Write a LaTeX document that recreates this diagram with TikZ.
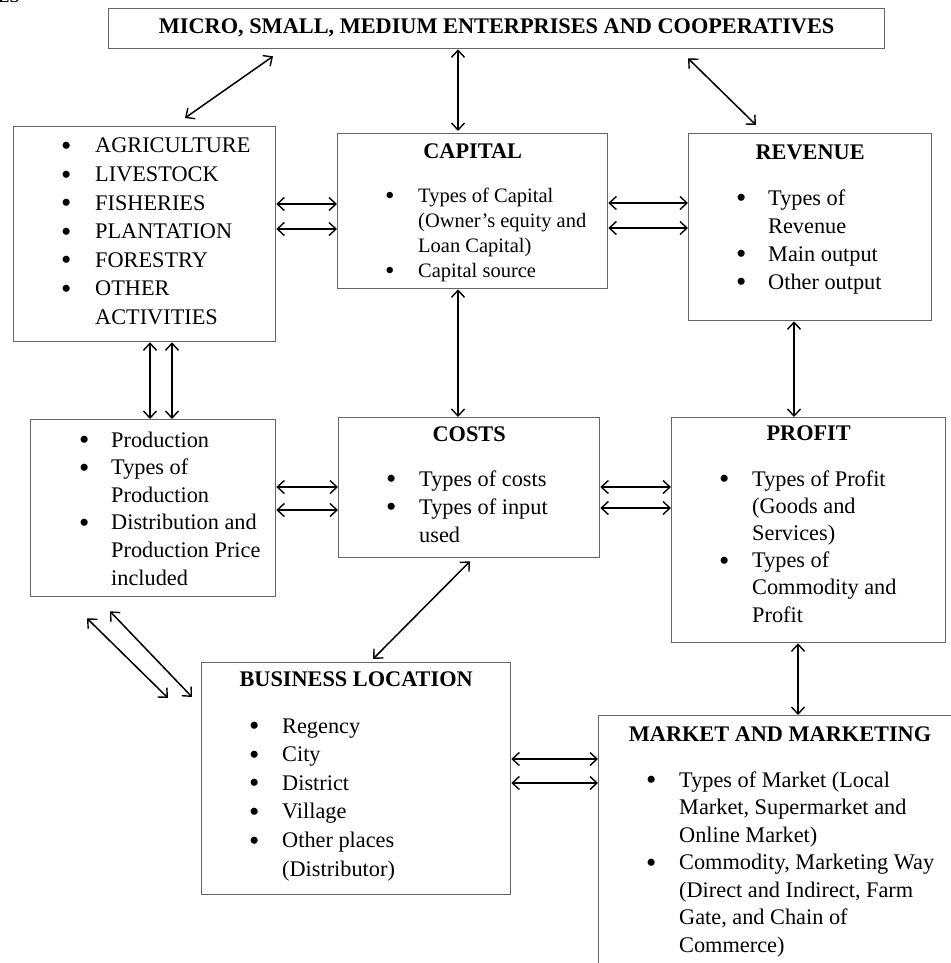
\documentclass[tikz,border=0pt]{standalone}
\usepackage{fontspec}
\setmainfont{Liberation Serif}
\usetikzlibrary{arrows.meta}

\NewDocumentCommand{\flowbox}{mmmmm}{%
\node[box, minimum width={#4-#2}, minimum height={#5-#3}] (#1) at (#2,#3) {};%
}
\newcommand{\bu}{\smash{\raisebox{-2.6pt}{\scalebox{1.32}{\textbullet}}} &}

\begin{document}
\begin{tikzpicture}[x=1pt, y=-1pt,
    box/.style={draw=black!60, line width=1.3pt, anchor=north west, inner sep=0pt},
    title/.style={anchor=base, inner sep=0pt, font=\bfseries\fontsize{22.3}{26}\selectfont},
    items/.style={anchor=base west, inner sep=0pt},
    dbl/.style={<->, line width=1.5pt, >={Straight Barb[length=7pt,width=13pt,line width=1.4pt]}}]
        \useasboundingbox (0,0) rectangle (950,963);
        \node (esfrag) [anchor=base west, font=\bfseries\fontsize{18}{20}\selectfont] at (-6,3) {ES};

        % boxes
        \flowbox{mse}{108}{8}{884}{48}
        \flowbox{act}{13}{126}{275}{341}
        \flowbox{cap}{337}{133}{607}{288}
        \flowbox{rev}{688}{133}{931}{320}
        \flowbox{prod}{30}{419}{275}{596}
        \flowbox{cost}{338}{417}{599}{557}
        \flowbox{prof}{671}{417}{945}{642}
        \flowbox{loc}{201}{662}{510}{894}
        \flowbox{mkt}{598}{715}{962}{980}

        % titles
        \node[title] (mseT) at (mse.north |- 0,34) {MICRO, SMALL, MEDIUM ENTERPRISES AND COOPERATIVES};
        \node[title] (capT) at (cap.north |- 0,158) {CAPITAL};
        \node[title] (revT) at (rev.north |- 0,159) {REVENUE};
        \node[title] (costT) at (cost.north |- 0,441) {COSTS};
        \node[title] (profT) at (prof.north |- 0,440) {PROFIT};
        \node[title] (locT) at (loc.north |- 0,686) {BUSINESS LOCATION};
        \node[title] (mktT) at (780,741) {MARKET AND MARKETING};

        % bullet lists
        \node[items, font=\fontsize{22.3}{28.5}\selectfont] (actL) at (61,153) {%
          \begin{tabular}[t]{@{}p{34pt}@{}l@{}}
          \bu AGRICULTURE\\ \bu LIVESTOCK\\ \bu FISHERIES\\ \bu PLANTATION\\
          \bu FORESTRY\\ \bu OTHER\\ & ACTIVITIES
          \end{tabular}};
        \node[items, font=\fontsize{20.5}{25}\selectfont] (capL) at (385,202) {%
          \begin{tabular}[t]{@{}p{33pt}@{}l@{}}
          \bu Types of Capital\\ & (Owner’s equity and\\ & Loan Capital)\\
          \bu Capital source
          \end{tabular}};
        \node[items, font=\fontsize{22.3}{28}\selectfont] (revL) at (736,205) {%
          \begin{tabular}[t]{@{}p{32pt}@{}l@{}}
          \bu Types of\\ & Revenue\\ \bu Main output\\ \bu Other output
          \end{tabular}};
        \node[items, font=\fontsize{22.3}{27.6}\selectfont] (prodL) at (79,447) {%
          \begin{tabular}[t]{@{}p{32pt}@{}l@{}}
          \bu Production\\ \bu Types of\\ & Production\\
          \bu Distribution and\\ & Production Price\\ & included
          \end{tabular}};
        \node[items, font=\fontsize{22.3}{28}\selectfont] (costL) at (386,486) {%
          \begin{tabular}[t]{@{}p{33pt}@{}l@{}}
          \bu Types of costs\\ \bu Types of input\\ & used
          \end{tabular}};
        \node[items, font=\fontsize{22.3}{27.2}\selectfont] (profL) at (719,486) {%
          \begin{tabular}[t]{@{}p{33pt}@{}l@{}}
          \bu Types of Profit\\ & (Goods and\\ & Services)\\
          \bu Types of\\ & Commodity and\\ & Profit
          \end{tabular}};
        \node[items, font=\fontsize{22.3}{28.6}\selectfont] (locL) at (249,733) {%
          \begin{tabular}[t]{@{}p{33pt}@{}l@{}}
          \bu Regency\\ \bu City\\ \bu District\\ \bu Village\\
          \bu Other places\\ & (Distributor)
          \end{tabular}};
        \node[items, font=\fontsize{22.3}{27.5}\selectfont] (mktL) at (646,787) {%
          \begin{tabular}[t]{@{}p{33pt}@{}l@{}}
          \bu Types of Market (Local\\ & Market, Supermarket and\\ & Online Market)\\
          \bu Commodity, Marketing Way\\ & (Direct and Indirect, Farm\\
          & Gate, and Chain of\\ & Commerce)
          \end{tabular}};

        % connectors
        \draw[dbl] ([yshift=-7pt]mse.south -| 273,0) -- ([yshift=8pt]act.north -| 185,0);
        \draw[dbl, shorten >=2pt] (mse.south -| 458,0) -- (cap.north -| 458,0);
        \draw[dbl] ([yshift=-9pt]mse.south -| 688,0) -- ([yshift=8pt]rev.north -| 756,0);
        \foreach \y in {204,229} \draw[dbl] (act.east |- 0,\y) -- (cap.west |- 0,\y);
        \foreach \y in {203,228} \draw[dbl] (cap.east |- 0,\y) -- (rev.west |- 0,\y);
        \draw[dbl] (cap.south -| 458,0) -- (cost.north -| 458,0);
        \draw[dbl] (rev.south -| 794,0) -- (prof.north -| 794,0);
        \foreach \x in {150,172} \draw[dbl] (act.south -| \x,0) -- (prod.north -| \x,0);
        \foreach \y in {487,510} \draw[dbl] (prod.east |- 0,\y) -- (cost.west |- 0,\y);
        \foreach \y in {487,508} \draw[dbl] (cost.east |- 0,\y) -- (prof.west |- 0,\y);
        \draw[dbl] ([yshift=-3pt]cost.south -| 470,0) -- ([yshift=3pt]loc.north -| 373,0);
        \draw[dbl] ([yshift=-21pt]prod.south -| 87,0) -- ([xshift=-33pt]loc.west |- 0,698);
        \draw[dbl] ([yshift=-14pt]prod.south -| 110,0) -- ([xshift=-9pt]loc.west |- 0,697);
        \draw[dbl] (prof.south -| 798,0) -- (mkt.north -| 798,0);
        \foreach \y in {759,783} \draw[dbl] (loc.east |- 0,\y) -- (mkt.west |- 0,\y);
\end{tikzpicture}
\end{document}
